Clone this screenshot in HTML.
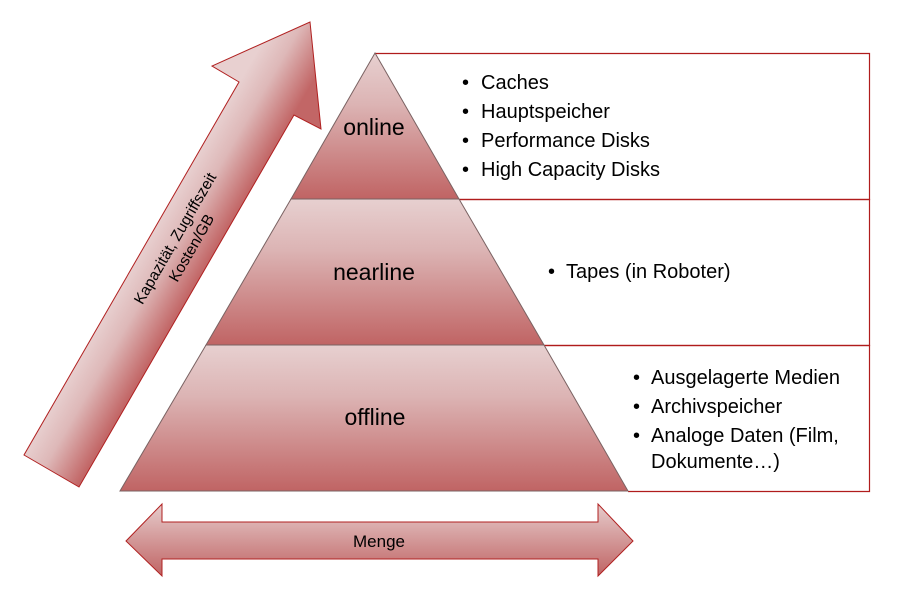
<!DOCTYPE html>
<html><head><meta charset="utf-8"><style>
html,body{margin:0;padding:0;background:#fff;}
svg{display:block;font-family:"Liberation Sans",sans-serif;}
</style></head><body>
<svg width="921" height="591" viewBox="0 0 921 591" xmlns="http://www.w3.org/2000/svg">
<defs>
<linearGradient id="lv" x1="0" y1="0" x2="0" y2="1">
<stop offset="0" stop-color="#e7d0d0"/><stop offset="0.35" stop-color="#dcb4b4"/><stop offset="1" stop-color="#c06464"/>
</linearGradient>
<linearGradient id="ad" gradientUnits="userSpaceOnUse" x1="153" y1="230" x2="208" y2="262">
<stop offset="0" stop-color="#e8d0d0"/><stop offset="0.4" stop-color="#deb8b8"/><stop offset="1" stop-color="#c26666"/>
</linearGradient>
<linearGradient id="ah" x1="0" y1="0" x2="0" y2="1">
<stop offset="0" stop-color="#e6cccc"/><stop offset="1" stop-color="#c06464"/>
</linearGradient>
</defs>
<g fill="none" stroke="#b01c1c" stroke-width="1.2">
<polyline points="375,53.5 869.5,53.5 869.5,199.5 459,199.5"/>
<polyline points="459,199.5 869.5,199.5 869.5,345.5 544,345.5"/>
<polyline points="544,345.5 869.5,345.5 869.5,491.5 628,491.5"/>
</g>
<g stroke="#7a6262" stroke-width="1">
<polygon points="375,53 459,199 291,199" fill="url(#lv)"/>
<polygon points="291,199 459,199 544,345 206,345" fill="url(#lv)"/>
<polygon points="206,345 544,345 628,491 120,491" fill="url(#lv)"/>
</g>
<g font-size="23" fill="#000" text-anchor="middle">
<text x="374" y="135">online</text>
<text x="374" y="280">nearline</text>
<text x="375" y="425">offline</text>
</g>
<g font-size="20" fill="#000">
<text x="462" y="89">•</text><text x="481" y="89">Caches</text>
<text x="462" y="118">•</text><text x="481" y="118">Hauptspeicher</text>
<text x="462" y="147">•</text><text x="481" y="147">Performance Disks</text>
<text x="462" y="176">•</text><text x="481" y="176">High Capacity Disks</text>
<text x="548" y="278">•</text><text x="566" y="278">Tapes (in Roboter)</text>
<text x="633" y="384">•</text><text x="651" y="384">Ausgelagerte Medien</text>
<text x="633" y="413">•</text><text x="651" y="413">Archivspeicher</text>
<text x="633" y="442">•</text><text x="651" y="442">Analoge Daten (Film,</text>
<text x="651" y="468">Dokumente…)</text>
</g>
<polygon points="310,22 321,129 294,115 79,487 24,455 239,82 212,66" fill="url(#ad)" stroke="#b02020" stroke-width="1"/>
<g transform="translate(183,243) rotate(-60)" font-size="15.5" text-anchor="middle" fill="#000">
<text x="0" y="-4">Kapazität, Zugriffszeit</text>
<text x="0" y="15">Kosten/GB</text>
</g>
<polygon points="126,541 162,504 162,522 598,522 598,504 633,541 598,576 598,559 162,559 162,576" fill="url(#ah)" stroke="#b02020" stroke-width="1"/>
<text x="379" y="547" font-size="17" text-anchor="middle" fill="#000">Menge</text>
</svg>
</body></html>
